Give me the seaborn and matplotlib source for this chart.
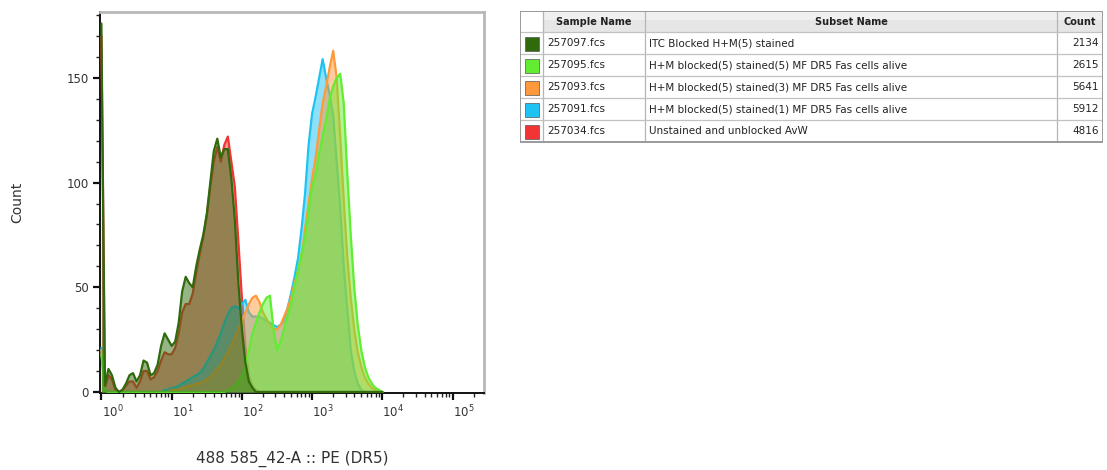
import numpy as np
import pandas as pd
import matplotlib
matplotlib.use("Agg")
import matplotlib.pyplot as plt
import matplotlib.transforms as mtransforms
from matplotlib.ticker import FixedLocator, MultipleLocator, LogLocator, NullFormatter
from matplotlib.patches import Rectangle
import seaborn as sns

# ---------------- data ----------------
# histogram channel positions (log10 of fluorescence), 0.05-decade bins
log_pos = np.round(np.arange(0.0, 4.0001, 0.05), 2)

samples = ["257097.fcs", "257095.fcs", "257093.fcs", "257091.fcs", "257034.fcs"]
subsets = ["ITC Blocked H+M(5) stained",
           "H+M blocked(5) stained(5) MF DR5 Fas cells alive",
           "H+M blocked(5) stained(3) MF DR5 Fas cells alive",
           "H+M blocked(5) stained(1) MF DR5 Fas cells alive",
           "Unstained and unblocked AvW"]
counts = [2134, 2615, 5641, 5912, 4816]
colors = ["#2f6a0c", "#62ec32", "#ff9a3c", "#1fc3f2", "#f23434"]

y_257097 = [176, 3, 11, 8, 2, 0, 1, 4, 8, 9, 5, 8, 15, 14, 8, 9, 13, 22, 28, 25,
            22, 24, 33, 48, 55, 52, 50, 60, 68, 75, 85, 100, 115, 121, 112, 116, 116, 102, 82, 52,
            30, 14, 5, 2, 0, 0, 0, 0, 0, 0, 0, 0, 0, 0, 0, 0, 0, 0, 0, 0,
            0, 0, 0, 0, 0, 0, 0, 0, 0, 0, 0, 0, 0, 0, 0, 0, 0, 0, 0, 0, 0]
y_257095 = [18, 1, 0, 0, 0, 0, 0, 0, 0, 0, 0, 0, 0, 0, 0, 0, 0, 0, 0, 0,
            0, 0, 0, 0, 0, 0, 0, 0, 0, 0, 0, 0, 0, 0, 0, 0, 1, 1, 3, 5,
            8, 12, 20, 28, 33, 38, 42, 45, 46, 30, 20, 24, 30, 36, 42, 50, 58, 66, 74, 86,
            98, 104, 114, 122, 130, 140, 146, 150, 152, 138, 105, 75, 50, 32, 20, 12, 7, 4, 2, 1, 0]
y_257093 = [20, 1, 0, 0, 0, 0, 0, 0, 0, 0, 0, 0, 0, 0, 0, 0, 0, 0, 0, 0,
            1, 1, 1, 2, 2, 3, 3, 4, 4, 5, 6, 7, 9, 11, 13, 16, 19, 22, 26, 30,
            34, 38, 42, 45, 46, 43, 38, 35, 32, 30, 30, 32, 36, 40, 45, 52, 58, 65, 78, 90,
            102, 112, 125, 138, 146, 155, 163, 150, 122, 92, 65, 45, 30, 19, 12, 7, 4, 2, 1, 0, 0]
y_257091 = [21, 1, 0, 0, 0, 0, 0, 0, 0, 0, 0, 0, 0, 0, 0, 0, 0, 0, 1, 1,
            2, 2, 3, 4, 5, 6, 7, 8, 9, 11, 14, 17, 20, 24, 28, 33, 37, 40, 41, 40,
            42, 44, 38, 36, 36, 36, 35, 34, 33, 32, 31, 32, 34, 40, 47, 55, 64, 78, 95, 118,
            133, 141, 150, 159, 150, 142, 132, 110, 88, 60, 40, 20, 10, 4, 1, 0, 0, 0, 0, 0, 0]
y_257034 = [170, 2, 8, 6, 1, 0, 1, 3, 5, 5, 2, 5, 10, 10, 6, 7, 10, 15, 19, 18,
            18, 21, 28, 38, 42, 42, 47, 57, 66, 74, 84, 98, 110, 117, 110, 118, 122, 110, 98, 72,
            45, 22, 8, 3, 1, 0, 0, 0, 0, 0, 0, 0, 0, 0, 0, 0, 0, 0, 0, 0,
            0, 0, 0, 0, 0, 0, 0, 0, 0, 0, 0, 0, 0, 0, 0, 0, 0, 0, 0, 0, 0]
series = [y_257097, y_257095, y_257093, y_257091, y_257034]

x_ticks_exp = [0, 1, 2, 3, 4, 5]
y_ticks = [0, 50, 100, 150]

# ---------------- figure ----------------
sns.set_theme(style="white")
plt.rcParams["font.family"] = ["DejaVu Sans"]

W, H = 1107, 470
fig = plt.figure(figsize=(W / 100, H / 100), dpi=100)
ax = fig.add_axes([100 / W, 1 - 393 / H, 384 / W, 381 / H])
ax.set_xscale("log")

x_vals = 10.0 ** log_pos
df = pd.concat([pd.DataFrame({"x": x_vals, "count": y, "sample": s})
                for s, y in zip(samples, series)], ignore_index=True)

# draw bottom-to-top: last listed sample at the bottom
for i, (s, c) in enumerate(reversed(list(zip(samples, colors)))):
    d = df[df["sample"] == s]
    ax.fill_between(d["x"], 0, d["count"], color=c, alpha=0.5, lw=0, zorder=2 + 2 * i)
    sns.lineplot(data=d, x="x", y="count", ax=ax, color=c, lw=1.6,
                 zorder=3 + 2 * i, legend=False)

ax.set_xlim(0.955, 2.8e5)
ax.set_ylim(-0.5, 181.5)

# ticks
ax.xaxis.set_major_locator(FixedLocator([10.0 ** e for e in x_ticks_exp]))
ax.set_xticklabels([r"$10^{%d}$" % e for e in x_ticks_exp])
ax.xaxis.set_minor_locator(LogLocator(base=10, subs=np.arange(2, 10), numticks=50))
ax.xaxis.set_minor_formatter(NullFormatter())
ax.yaxis.set_major_locator(FixedLocator(y_ticks))
ax.set_yticklabels([str(v) for v in y_ticks])
ax.yaxis.set_minor_locator(MultipleLocator(10))
ax.tick_params(axis="both", which="major", direction="out", length=5, width=1.6,
               color="#111111", labelsize=8.5, labelcolor="#333333", pad=3,
               bottom=True, left=True)
ax.tick_params(axis="both", which="minor", direction="out", length=3, width=1.0,
               color="#222222", bottom=True, left=True)
offset = mtransforms.ScaledTranslation(11 / 100, 0, fig.dpi_scale_trans)
for lab in ax.get_xticklabels():
    lab.set_transform(lab.get_transform() + offset)

for side in ["left", "bottom"]:
    ax.spines[side].set_color("#111111")
    ax.spines[side].set_linewidth(1.4)
for side in ["top", "right"]:
    ax.spines[side].set_color("#b8b8b8")
    ax.spines[side].set_linewidth(2.0)

ax.set_xlabel("488 585_42-A :: PE (DR5)", fontsize=11, color="#333333", labelpad=22)
ax.set_ylabel("Count", fontsize=10, color="#333333", labelpad=0)
ax.yaxis.set_label_coords(-76 / 384, 0.5)

# ---------------- table legend ----------------
tab = fig.add_axes([520 / W, 1 - 144 / H, 583 / W, 133 / H])
tab.set_xlim(0, 583)
tab.set_ylim(133, 0)
tab.axis("off")

col_edges = [0, 23, 125, 537, 583]
header_h = 21
row_h = 22
n = len(samples)
total_h = header_h + n * row_h

# header background
tab.add_patch(Rectangle((col_edges[1], 0), col_edges[-1] - col_edges[1], header_h,
                        facecolor="#e6e6e6", edgecolor="none", zorder=1))
tab.add_patch(Rectangle((col_edges[1], 0), col_edges[-1] - col_edges[1], header_h * 0.45,
                        facecolor="#f0f0f0", edgecolor="none", zorder=1))
# grid lines
for xe in col_edges[1:-1]:
    tab.plot([xe, xe], [0, total_h], color="#b5b5b5", lw=0.9, zorder=2)
for r in range(1, n + 1):
    yy = header_h + (r - 1) * row_h
    tab.plot([0, col_edges[-1]], [yy, yy], color="#c2c2c2", lw=0.9, zorder=2)
tab.add_patch(Rectangle((0, 0), col_edges[-1], total_h, facecolor="none",
                        edgecolor="#9a9a9a", lw=1.4, zorder=3))

headers = ["Sample Name", "Subset Name", "Count"]
for j, h in enumerate(headers):
    xc = (col_edges[j + 1] + col_edges[j + 2]) / 2
    tab.text(xc, header_h / 2 + 0.5, h, ha="center", va="center", fontsize=7,
             fontweight="bold", color="#222222", zorder=4)

for i in range(n):
    yc = header_h + i * row_h + row_h / 2 + 0.5
    tab.add_patch(Rectangle((4.5, yc - 7), 14, 14, facecolor=colors[i],
                            edgecolor="#555555", lw=0.5, zorder=4))
    tab.text(col_edges[1] + 4, yc, samples[i], ha="left", va="center",
             fontsize=7.5, color="#222222", zorder=4)
    tab.text(col_edges[2] + 4, yc, subsets[i], ha="left", va="center",
             fontsize=7.5, color="#222222", zorder=4)
    tab.text(col_edges[4] - 4, yc, str(counts[i]), ha="right", va="center",
             fontsize=7.5, color="#222222", zorder=4)

fig.savefig("out.png", dpi=100)
